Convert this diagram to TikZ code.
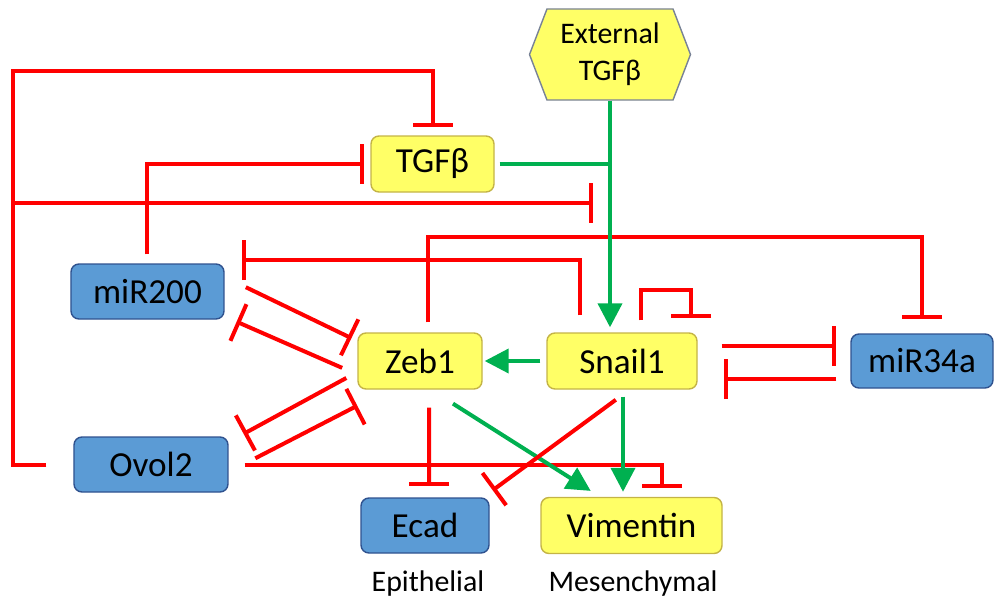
\documentclass[tikz,border=0pt]{standalone}
\usepackage{fontspec}
\setmainfont{Carlito}
\usetikzlibrary{arrows.meta,shapes.symbols}

\definecolor{inhred}{RGB}{255,0,0}
\definecolor{actgreen}{RGB}{0,176,80}
\definecolor{yfill}{RGB}{255,255,102}
\definecolor{ydraw}{RGB}{196,180,70}
\definecolor{bfill}{RGB}{91,155,213}
\definecolor{bdraw}{RGB}{47,82,143}
\definecolor{hdraw}{RGB}{120,130,150}

\begin{document}
\begin{tikzpicture}[auto, node distance=4cm, thick,
    yellow node/.style={rectangle,rounded corners=0.16cm,draw=ydraw,fill=yfill,line width=0.8pt,minimum height=1.12cm,font=\fontsize{20}{24}\selectfont},
    blue node/.style={rectangle,rounded corners=0.16cm,draw=bdraw,fill=bfill,line width=0.8pt,minimum height=1.1cm,font=\fontsize{20}{24}\selectfont},
    hex node/.style={signal,signal to=west and east,signal pointer angle=138,draw=hdraw,fill=yfill,line width=0.8pt,minimum width=3.22cm,minimum height=1.82cm,align=center,inner sep=0pt,font=\fontsize{17}{21}\selectfont},
    text node/.style={font=\fontsize{17}{21}\selectfont},
    inh edge/.style={draw=inhred,line width=0.08cm,-{Bar[width=0.8cm]}},
    act edge/.style={draw=actgreen,line width=0.08cm,-{Triangle[width=0.48cm,length=0.48cm]}},
    act line/.style={draw=actgreen,line width=0.08cm}]

  \useasboundingbox (-8.4,7.22) rectangle (11.5,-4.78);

  \node[yellow node, minimum width=2.48cm] (4) at (0,0) {Zeb1};
  \node[yellow node, minimum width=3cm] (5) [node distance=4.04cm, right of=4] {Snail1};
  \node[blue node, minimum width=2.84cm, minimum height=1.08cm] (6) [node distance=6cm, right of=5] {miR34a};
  \node[yellow node, minimum width=2.46cm] (2) [node distance=3.94cm, above of=4, xshift=0.25cm] {TGFβ};
  \node[hex node] (1) [node distance=6.13cm, above of=5, xshift=-0.24cm] {External\\TGFβ};
  \node[blue node, minimum width=3.06cm] (3) [node distance=5.45cm, left of=4, yshift=1.39cm] {miR200};
  \node[blue node, minimum width=3.08cm] (7) [node distance=5.38cm, left of=4, yshift=-2.07cm] {Ovol2};
  \node[blue node, minimum width=2.56cm] (8) [node distance=3.29cm, below of=4, xshift=0.1cm] {Ecad};
  \node[yellow node, minimum width=3.62cm] (9) [node distance=3.29cm, below of=5, xshift=0.19cm] {Vimentin};
  \node[text node] (10) [node distance=1.16cm, below of=8, xshift=0.06cm] {Epithelial};
  \node[text node] (11) [node distance=1.16cm, below of=9, xshift=0.03cm] {Mesenchymal};

  \coordinate (ltop) at (-8.14,5.8);
  \coordinate (lmid) at (-8.14,3.16);
  \coordinate (sbar) at (3.46,3.16);
  \coordinate (m200bar) at (-3.56,2.02);

  % long loops
  \draw[inh edge, shorten <=0.54cm, shorten >=0.16cm] (7.west) -| (ltop) -| (2.north);
  \draw[inh edge] (lmid) -- (sbar);
  \draw[inh edge, shorten <=0.18cm, shorten >=0.12cm] (3.north) |- (2.west);
  \draw[inh edge, shorten <=0.2cm, shorten >=0.28cm] ([xshift=0.16cm]4.north) -- ++(0,1.9) -| (6.north);
  \draw[inh edge, shorten <=0.34cm] ([xshift=-0.84cm]5.north) |- (m200bar);
  \draw[inh edge, shorten <=0.24cm, shorten >=0.28cm] ([xshift=0.38cm]5.north) -- ++(0,0.84) -| ([xshift=1.38cm]5.north);
  \draw[inh edge, shorten <=0.32cm, shorten >=0.18cm] (7.east) -| ([xshift=0.61cm]9.north);

  \draw[act line, shorten <=0.1cm] (2.east) -- (2.east -| 1.south);
  \draw[act edge, shorten >=0.1cm] (1.south) -- (1.south |- 5.north);

  \path
    (5.west) edge[act edge, shorten <=0.12cm, shorten >=0.04cm] (4.east)
    ([yshift=0.3cm]5.east) edge[inh edge, shorten <=0.48cm, shorten >=0.28cm] ([yshift=0.3cm]6.west)
    ([yshift=-0.36cm]6.west) edge[inh edge, shorten <=0.28cm, shorten >=0.52cm] ([yshift=-0.36cm]5.east)

    ([yshift=0.29cm]3.east) edge[inh edge, shorten <=0.47cm, shorten >=0.13cm] ([yshift=0.4cm]4.west)
    ([yshift=-0.27cm]4.west) edge[inh edge, shorten <=0.33cm, shorten >=0.26cm] ([yshift=-0.5cm]3.east)
    ([yshift=-0.22cm]4.west) edge[inh edge, shorten <=0.25cm, shorten >=0.34cm] ([yshift=0.45cm]7.east)
    ([yshift=-0.15cm]7.east) edge[inh edge, shorten <=0.6cm] ([yshift=-0.32cm]4.south west)

    ([xshift=0.18cm]4.south) edge[inh edge, shorten <=0.36cm, shorten >=0.22cm] ([xshift=0.08cm]8.north)
    ([xshift=0.22cm]4.south) edge[act edge, shorten <=0.52cm, shorten >=0.22cm] ([xshift=-0.63cm]9.north)
    ([xshift=0.02cm]5.south) edge[act edge, shorten <=0.14cm, shorten >=0.1cm] ([xshift=-0.17cm]9.north)
    ([xshift=0.15cm]5.south) edge[inh edge, shorten <=0.34cm] ([xshift=0.06cm,yshift=0.14cm]8.north east)
    ;

\end{tikzpicture}
\end{document}
